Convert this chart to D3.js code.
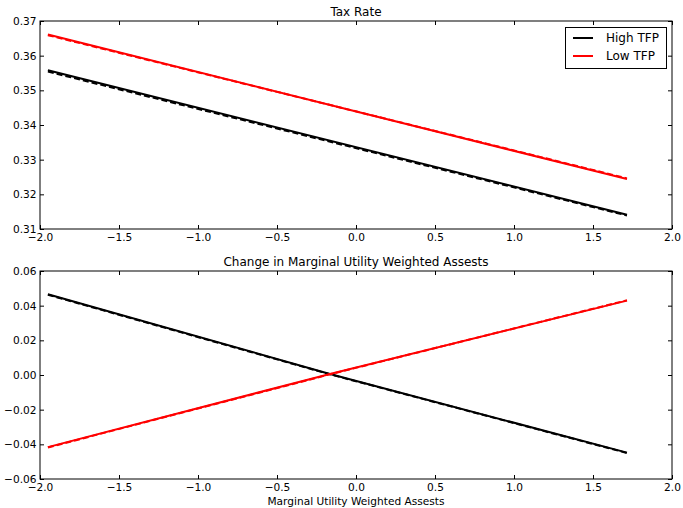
<!DOCTYPE html>
<html><head><meta charset="utf-8">
<script src="https://cdn.jsdelivr.net/npm/d3@7"></script>
<style>body{margin:0;background:#fff}text{font-family:"DejaVu Sans",sans-serif}</style>
</head><body><svg id="c" width="683" height="508"></svg>
<script>
const xTax = [-1.95, 1.715];
const taxHigh = [0.3558, 0.3141];
const taxHighFit = [0.3554, 0.3139];
const taxLow = [0.3661, 0.3244];
const taxLowFit = [0.3659, 0.3246];
const xMu = [-1.95, -0.165, 1.715];
const muHigh = [0.0466, 0.0006, -0.0448];
const muHighFit = [0.0463, 0.0004, -0.0450];
const muLow = [-0.0416, 0.0006, 0.0429];
const muLowFit = [-0.0418, 0.0004, 0.0431];
const xTicks = [-2.0, -1.5, -1.0, -0.5, 0.0, 0.5, 1.0, 1.5, 2.0];
const taxTicks = [0.31, 0.32, 0.33, 0.34, 0.35, 0.36, 0.37];
const muTicks = [-0.06, -0.04, -0.02, 0.00, 0.02, 0.04, 0.06];
const seriesNames = ["High TFP", "Low TFP"];
const colors = ["#000000", "#ff0000"];

const svg = d3.select("#c");
const L = 40, R = 672;
const FS = 10.6;
const x = d3.scaleLinear().domain([-2, 2]).range([L, R]);
const fmt = v => (v < 0 ? "\u2212" : "") + Math.abs(v).toFixed(1);

function panel(top, bottom, yDomain, yTicks, xVals, title, series, legend) {
  const y = d3.scaleLinear().domain(yDomain).range([bottom, top]);
  const g = svg.append("g");
  const yfmt = v => (v < -1e-9 ? "\u2212" : "") + Math.abs(v).toFixed(2);
  const line = d3.line().x((d, i) => x(xVals[i])).y(d => y(d));
  series.forEach(s => {
    g.append("path").attr("d", line(s.vals)).attr("fill", "none")
      .attr("stroke", s.color).attr("stroke-width", 2)
      .attr("stroke-dasharray", s.dash ? "6,3" : null);
  });
  const ax = [
    [d3.axisBottom(x).tickValues(xTicks).tickFormat(fmt), bottom, true],
    [d3.axisTop(x).tickValues(xTicks).tickFormat(""), top, false]
  ];
  ax.forEach(([a, pos, lab]) => {
    const gg = g.append("g").attr("transform", `translate(0,${pos})`)
      .call(a.tickSizeInner(lab ? -4 : -4).tickSizeOuter(0).tickPadding(lab ? 4 : 0));
    gg.select(".domain").remove();
    gg.selectAll("text").attr("font-size", FS).attr("fill", "#000");
    gg.selectAll("line").attr("stroke", "#000");
  });
  const ay = [
    [d3.axisLeft(y).tickValues(yTicks).tickFormat(yfmt), L, true],
    [d3.axisRight(y).tickValues(yTicks).tickFormat(""), R, false]
  ];
  ay.forEach(([a, pos, lab]) => {
    const gg = g.append("g").attr("transform", `translate(${pos},0)`)
      .call(a.tickSizeInner(-4).tickSizeOuter(0).tickPadding(lab ? 3.5 : 0));
    gg.select(".domain").remove();
    gg.selectAll("text").attr("font-size", FS).attr("fill", "#000");
    gg.selectAll("line").attr("stroke", "#000");
  });
  g.append("rect").attr("x", L).attr("y", top).attr("width", R - L).attr("height", bottom - top)
    .attr("fill", "none").attr("stroke", "#000").attr("stroke-width", 1);
  g.append("text").attr("x", (L + R) / 2).attr("y", top - 5).attr("text-anchor", "middle")
    .attr("font-size", 12).text(title);
  if (legend) {
    const lg = g.append("g");
    lg.append("rect").attr("x", 565.5).attr("y", 27.5).attr("width", 101).attr("height", 41)
      .attr("fill", "#fff").attr("stroke", "#000").attr("stroke-width", 1);
    seriesNames.forEach((n, i) => {
      const yy = 38 + i * 18;
      lg.append("line").attr("x1", 573).attr("x2", 593).attr("y1", yy).attr("y2", yy)
        .attr("stroke", colors[i]).attr("stroke-width", 2);
      lg.append("text").attr("x", 606).attr("y", yy + 4).attr("font-size", 12).text(n);
    });
  }
}

panel(21, 229, [0.31, 0.37], taxTicks, xTax, "Tax Rate", [
  {vals: taxHigh, color: colors[0]}, {vals: taxHighFit, color: colors[0], dash: true},
  {vals: taxLow, color: colors[1]}, {vals: taxLowFit, color: colors[1], dash: true}
], true);
panel(271, 479, [-0.06, 0.06], muTicks, xMu, "Change in Marginal Utility Weighted Assests", [
  {vals: muHigh, color: colors[0]}, {vals: muHighFit, color: colors[0], dash: true},
  {vals: muLow, color: colors[1]}, {vals: muLowFit, color: colors[1], dash: true}
], false);
svg.append("text").attr("x", (L + R) / 2).attr("y", 505).attr("text-anchor", "middle")
  .attr("font-size", FS).text("Marginal Utility Weighted Assests");
</script></body></html>
